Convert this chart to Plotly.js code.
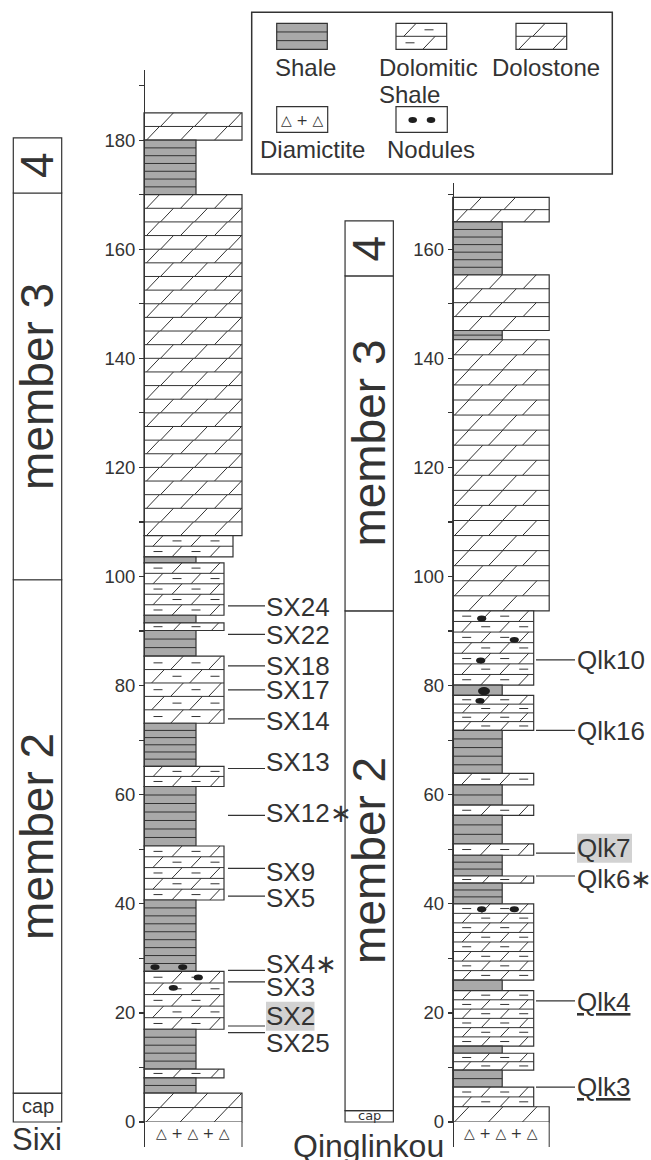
<!DOCTYPE html>
<html><head><meta charset="utf-8">
<script src="https://cdn.plot.ly/plotly-3.0.1.min.js"></script>
<style>html,body{margin:0;padding:0;background:#fff}#chart{width:651px;height:1160px}</style>
</head><body><div id="chart"></div>
<script>
// ================= DATA =================
// Sixi section: beds (metres)
const sixiBase   = [-4.6, 0, 5.3, 8.1, 9.7, 17.0, 27.6, 40.7, 50.6, 61.5, 65.2, 73.1, 85.4, 90.1, 91.5, 92.9, 102.5, 103.6, 107.5, 170, 180];
const sixiTop    = [0, 5.3, 8.1, 9.7, 17.0, 27.6, 40.7, 50.6, 61.5, 65.2, 73.1, 85.4, 90.1, 91.5, 92.9, 102.5, 103.6, 107.5, 170, 180, 185];
const sixiLith   = ['diamictite','dolostone','shale','dolomiticShale','shale','dolomiticShale','shale','dolomiticShale','shale','dolomiticShale','shale','dolomiticShale','shale','dolomiticShale','shale','dolomiticShale','shale','dolomiticShale','dolostone','shale','dolostone'];
const sixiLayers = [1, 2, 2, 1, 5, 5, 9, 5, 7, 2, 6, 5, 3, 1, 1, 5, 1, 2, 25, 7, 2];
const sixiNoduleDepth = [28.4, 28.4, 26.5, 24.6];
const sixiNoduleX     = [155, 182.7, 198.3, 173.3];

// Qinglinkou section: beds (metres)
const qlkBase   = [-4.6, 0, 2.8, 6.4, 9.5, 12.6, 13.9, 24.1, 26.0, 40.0, 43.8, 45.1, 48.9, 51.0, 56.2, 58.1, 61.8, 63.9, 71.8, 78.2, 80.1, 93.7, 143.4, 145.1, 155.3, 165.0];
const qlkTop    = [0, 2.8, 6.4, 9.5, 12.6, 13.9, 24.1, 26.0, 40.0, 43.8, 45.1, 48.9, 51.0, 56.2, 58.1, 61.8, 63.9, 71.8, 78.2, 80.1, 93.7, 143.4, 145.1, 155.3, 165.0, 169.5];
const qlkLith   = ['diamictite','dolostone','dolomiticShale','shale','dolomiticShale','shale','dolomiticShale','shale','dolomiticShale','shale','dolomiticShale','shale','dolomiticShale','shale','dolomiticShale','shale','dolomiticShale','shale','dolomiticShale','shale','dolomiticShale','dolostone','shale','dolostone','shale','dolostone'];
const qlkLayers = [1, 1, 2, 2, 2, 1, 6, 1, 8, 3, 1, 3, 1, 3, 1, 2, 1, 5, 4, 1, 7, 18, 2, 4, 7, 2];
const qlkNoduleDepth = [92.3, 88.4, 84.6, 79.0, 77.2, 39.0, 39.0];
const qlkNoduleX     = [481.7, 514.3, 480.7, 484, 480, 481.7, 514.3];
const qlkNoduleBig   = [false, false, false, true, false, false, false];

// Members
const memberNames    = ['cap', 'member 2', 'member 3', '4'];
const sixiMemberBase = [0, 5.3, 99.4, 170.3];
const sixiMemberTop  = [5.3, 99.4, 170.3, 180.4];
const qlkMemberBase  = [0, 2.1, 93.7, 155.1];
const qlkMemberTop   = [2.1, 93.7, 155.1, 165.2];

// Samples
const sixiSamples     = ['SX24','SX22','SX18','SX17','SX14','SX13','SX12\u2217','SX9','SX5','SX4\u2217','SX3','SX2','SX25'];
const sixiSampleDepth = [94.6, 89.4, 83.6, 79.2, 73.9, 64.8, 56.2, 46.5, 41.4, 27.8, 25.7, 17.6, 16.4];
const sixiLabelDepth  = [94.5, 89.3, 83.6, 79.2, 73.6, 66.0, 56.6, 45.9, 41.1, 29.0, 24.7, 19.4, 14.5];
const qlkSamples      = ['Qlk10','Qlk16','Qlk7','Qlk6\u2217','Qlk4','Qlk3'];
const qlkSampleDepth  = [84.7, 71.8, 49.3, 45.1, 22.2, 6.4];
const qlkLabelDepth   = [84.7, 71.6, 50.2, 44.5, 22.0, 6.5];
const highlighted = ['SX2', 'Qlk7'];
const underlined  = ['Qlk4', 'Qlk3'];

// Axis ticks
const sixiTicks = [0,10,20,30,40,50,60,70,80,90,100,110,120,130,140,150,160,170,180,190];
const qlkTicks  = [0,10,20,30,40,50,60,70,80,90,100,110,120,130,140,150,160,170];
const tickLabel = v => (v % 20 === 0 ? String(v) : '');

// Legend
const legendNames = ['Shale', 'Dolomitic', 'Shale', 'Dolostone', 'Diamictite', 'Nodules'];
const sectionNames = ['Sixi', 'Qinglinkou'];

// ================= STYLE / GEOMETRY =================
const W = 651, H = 1160;
const PX_PER_M = 5.455;
const INK = '#333333';
const SHALE_FILL = '#a9a9a9';
const FONT = 'Liberation Sans, Arial, Helvetica, sans-serif';
const SIXI_X = 144, QLK_X = 452.7;
const SIXI_W = {dolostone: 98, shale: 52, dolomiticShale: 80, diamictite: 98};
const QLK_W  = {dolostone: 96.5, shale: 49.5, dolomiticShale: 81, diamictite: 96.5};
const SIXI_W_OVERRIDE = {103.6: 89};   // slightly wider bed drawn in the figure
const HIGHLIGHT_W = {SX2: 48.5, Qlk7: 55};
const ZERO_PX = 1122;
const yBottomPx = 1147, sixiTopPx = 70, qlkTopPx = 183;

const X = px => px / W;
const Y = py => 1 - py / H;

function patternSegs(L, R, yTop, yBot, lith, n, k, startIdx) {
  const segs = [];
  const h = (yTop - yBot) / n;
  if (lith === 'diamictite') return segs;
  for (let i = 1; i < n; i++) { const y = yTop - i * h; segs.push([L, y, R, y]); }
  if (lith === 'shale') return segs;
  for (let i = 0; i < n; i++) {
    const a = yTop - i * h, b = a - h, mid = (a + b) / 2;
    const dx = Math.abs(h) * k * 0.95;
    const odd = (startIdx + i) % 2 === 1;
    if (lith === 'dolostone') {
      for (let cx = L + (odd ? 9 : 23); cx + dx / 2 <= R; cx += 34) {
        if (cx - dx / 2 < L) continue;
        segs.push([cx - dx / 2, b, cx + dx / 2, a]);
      }
    } else {
      let slash = !odd;
      for (let cx = L + 14; cx <= R - 4; cx += 19, slash = !slash) {
        if (slash) { if (cx + dx / 2 <= R - 1) segs.push([cx - dx / 2, b, cx + dx / 2, a]); }
        else if (cx + 4.5 <= R - 2) segs.push([cx - 4.5, mid, cx + 4.5, mid]);
      }
    }
  }
  return segs;
}

const traces = [];
const shapes = [];
const annotations = [];

function buildColumn(base, top, lith, layers, axisX, widths, override, yref) {
  const bx = [], by = [], bb = [], bw = [], bc = [], blw = [];
  const lx = [], ly = [];
  let idx = 0;
  for (let i = base.length - 1; i >= 0; i--) {
    const w = (override && override[base[i]]) || widths[lith[i]];
    bx.push(axisX + w / 2); bw.push(w); bb.push(base[i]); by.push(top[i] - base[i]);
    bc.push(lith[i] === 'shale' ? SHALE_FILL : '#ffffff');
    blw.push(lith[i] === 'diamictite' ? 0 : 1.2);
    const segs = patternSegs(axisX, axisX + w, top[i], base[i], lith[i], layers[i], PX_PER_M, idx);
    idx += layers[i];
    segs.forEach(s => { lx.push(s[0], s[2], null); ly.push(s[1], s[3], null); });
    if (lith[i] === 'diamictite') {
      lx.push(axisX + w, axisX + w, null); ly.push(top[i], base[i], null);
      annotations.push({x: axisX + w / 2, y: (top[i] + base[i]) / 2 + 0.3, xref: 'x', yref, xanchor: 'center', yanchor: 'middle',
        text: '\u25B3 + \u25B3 + \u25B3', showarrow: false, font: {family: 'DejaVu Sans', size: 14, color: INK}});
    }
  }
  traces.push({type: 'bar', x: bx, y: by, base: bb, width: bw, yaxis: yref, xaxis: 'x',
    marker: {color: bc, line: {color: INK, width: blw}}, hoverinfo: 'skip', showlegend: false});
  traces.push({type: 'scatter', mode: 'lines', x: lx, y: ly, yaxis: yref, xaxis: 'x',
    line: {color: INK, width: 1}, hoverinfo: 'skip', showlegend: false, connectgaps: false});
}
buildColumn(sixiBase, sixiTop, sixiLith, sixiLayers, SIXI_X, SIXI_W, SIXI_W_OVERRIDE, 'y');
buildColumn(qlkBase, qlkTop, qlkLith, qlkLayers, QLK_X, QLK_W, null, 'y2');

// nodules
function nodules(depths, xs, bigs, yref) {
  depths.forEach((d, i) => {
    const big = bigs && bigs[i];
    const hw = big ? 6 : 4.6, hh = (big ? 4 : 2.9) / PX_PER_M;
    shapes.push({type: 'circle', xref: 'x', yref, x0: xs[i] - hw, x1: xs[i] + hw, y0: d - hh, y1: d + hh,
      fillcolor: '#1e1e1e', line: {width: 0}});
  });
}
nodules(sixiNoduleDepth, sixiNoduleX, null, 'y');
nodules(qlkNoduleDepth, qlkNoduleX, qlkNoduleBig, 'y2');

// members
function members(base, top, cx, w, yref, capSize, capFamily) {
  traces.push({type: 'bar', x: base.map(() => cx), y: base.map((b, i) => top[i] - b), base, width: base.map(() => w),
    xaxis: 'x', yaxis: yref, marker: {color: '#ffffff', line: {color: INK, width: 1.2}}, hoverinfo: 'skip', showlegend: false});
  memberNames.forEach((name, i) => {
    const isCap = name === 'cap';
    annotations.push({x: cx, y: (base[i] + top[i]) / 2 + (isCap ? 0.2 : 0), xref: 'x', yref, text: name, showarrow: false,
      xanchor: 'center', yanchor: 'middle',
      textangle: isCap ? 0 : -90, font: {family: isCap ? capFamily : FONT, size: isCap ? capSize : 46, color: INK}});
  });
}
members(sixiMemberBase, sixiMemberTop, 37.5, 48.4, 'y', 20, FONT);
members(qlkMemberBase, qlkMemberTop, 369.2, 48.3, 'y2', 13, 'DejaVu Sans');

// sample labels
function samples(names, lineDepth, labelDepth, x0, x1, textX, yref) {
  const lx = [], ly = [];
  names.forEach((n, i) => {
    lx.push(x0, x1, null); ly.push(lineDepth[i], lineDepth[i], null);
    let t = n;
    if (underlined.includes(n)) t = '<u>' + n + '</u>';
    if (highlighted.includes(n)) {
      shapes.push({type: 'rect', xref: 'x', yref, layer: 'below', x0: textX + 1, x1: textX + 1 + HIGHLIGHT_W[n],
        y0: labelDepth[i] - 14.5 / PX_PER_M, y1: labelDepth[i] + 14.5 / PX_PER_M, fillcolor: '#d2d2d2', line: {width: 0}});
    }
    annotations.push({x: textX, y: labelDepth[i], xref: 'x', yref, text: t, showarrow: false, xanchor: 'left', yanchor: 'middle',
      font: {family: FONT, size: 26, color: INK}, borderpad: 0});
  });
  traces.push({type: 'scatter', mode: 'lines', x: lx, y: ly, xaxis: 'x', yaxis: yref, line: {color: INK, width: 1.2},
    hoverinfo: 'skip', showlegend: false});
}
samples(sixiSamples, sixiSampleDepth, sixiLabelDepth, 228, 265, 265, 'y');
samples(qlkSamples, qlkSampleDepth, qlkLabelDepth, 536, 575, 576, 'y2');

// section names
const sectionPos = [[36.5, 1139.3, 31], [368, 1146, 32]];
sectionNames.forEach((t, i) => {
  const p = sectionPos[i];
  annotations.push({x: X(p[0]), y: Y(p[1]), xref: 'paper', yref: 'paper', xanchor: 'center', yanchor: 'middle', text: t,
    showarrow: false, font: {family: FONT, size: p[2], color: INK}});
});

// legend (paper coordinates)
shapes.push({type: 'rect', xref: 'paper', yref: 'paper', x0: X(251.7), x1: X(612.3), y0: Y(12.3), y1: Y(174),
  line: {color: INK, width: 1.5}, fillcolor: 'rgba(0,0,0,0)'});
function legendSymbol(L, T, R, B, lith, fill) {
  shapes.push({type: 'rect', xref: 'paper', yref: 'paper', x0: X(L), x1: X(R), y0: Y(T), y1: Y(B),
    line: {color: INK, width: 1.2}, fillcolor: fill});
  const n = lith === 'shale' ? 3 : (lith === 'diamictite' || lith === 'nodules' ? 1 : 2);
  const segs = (lith === 'nodules') ? [] : patternSegs(L, R, T, B, lith, n, 1, 0);
  if (segs.length) {
    const path = segs.map(s => `M${X(s[0])},${Y(s[1])}L${X(s[2])},${Y(s[3])}`).join('');
    shapes.push({type: 'path', xref: 'paper', yref: 'paper', path, line: {color: INK, width: 1}});
  }
}
legendSymbol(276.7, 23.3, 327.3, 49.3, 'shale', SHALE_FILL);
legendSymbol(396, 23.3, 446.7, 49.3, 'dolomiticShale', '#ffffff');
legendSymbol(516, 23.3, 566.7, 49.3, 'dolostone', '#ffffff');
legendSymbol(276.7, 106.7, 327.7, 132.3, 'diamictite', '#ffffff');
legendSymbol(396, 106.7, 447.3, 132.3, 'nodules', '#ffffff');
[412.7, 431].forEach(cx => shapes.push({type: 'circle', xref: 'paper', yref: 'paper', x0: X(cx - 4.3), x1: X(cx + 4.3),
  y0: Y(120 + 3), y1: Y(120 - 3), fillcolor: '#1e1e1e', line: {width: 0}}));
annotations.push({x: X(302), y: Y(120), xref: 'paper', yref: 'paper', xanchor: 'center', yanchor: 'middle',
  text: '\u25B3 + \u25B3', showarrow: false, font: {family: 'DejaVu Sans', size: 14, color: INK}});
const legendPos = [[305, 67.7, 'center'], [376.7, 67.7, 'left'], [376.7, 95, 'left'], [490, 67.7, 'left'], [312, 150, 'center'], [431, 150, 'center']];
legendNames.forEach((t, i) => {
  const p = legendPos[i];
  annotations.push({x: X(p[0]), y: Y(p[1]), xref: 'paper', yref: 'paper', xanchor: p[2], yanchor: 'middle', text: t,
    showarrow: false, font: {family: FONT, size: 24, color: INK}});
});

// ================= LAYOUT =================
const sixiRange = [-(yBottomPx - ZERO_PX) / PX_PER_M, (ZERO_PX - sixiTopPx) / PX_PER_M];
const qlkRange  = [-(yBottomPx - ZERO_PX) / PX_PER_M, (ZERO_PX - qlkTopPx) / PX_PER_M];
const yCommon = {showline: true, linecolor: INK, linewidth: 1.2, ticks: 'outside', ticklen: 5, tickwidth: 1.2, tickcolor: INK,
  showgrid: false, zeroline: false, tickfont: {family: FONT, size: 18.5, color: INK}, tickmode: 'array', anchor: 'free', fixedrange: true};
const layout = {
  width: W, height: H, margin: {l: 0, r: 0, t: 0, b: 0, pad: 0},
  paper_bgcolor: '#ffffff', plot_bgcolor: 'rgba(0,0,0,0)', showlegend: false, barmode: 'overlay', bargap: 0,
  xaxis: {domain: [0, 1], range: [0, W], visible: false, fixedrange: true, anchor: 'y'},
  yaxis: Object.assign({}, yCommon, {domain: [1 - yBottomPx / H, 1 - sixiTopPx / H], range: sixiRange, position: SIXI_X / W,
    tickvals: sixiTicks, ticktext: sixiTicks.map(tickLabel)}),
  yaxis2: Object.assign({}, yCommon, {domain: [1 - yBottomPx / H, 1 - qlkTopPx / H], range: qlkRange, position: QLK_X / W,
    tickvals: qlkTicks, ticktext: qlkTicks.map(tickLabel)}),
  shapes, annotations
};
Plotly.newPlot('chart', traces, layout, {staticPlot: true, displayModeBar: false});
</script></body></html>
